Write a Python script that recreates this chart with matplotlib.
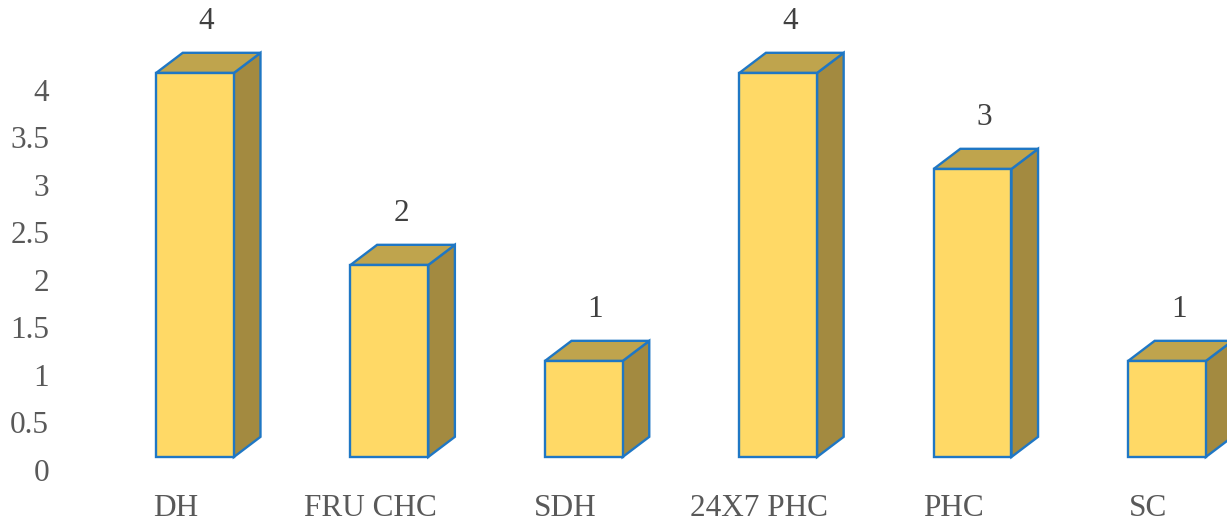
import matplotlib.pyplot as plt
from matplotlib.patches import Polygon

categories = ["DH", "FRU CHC", "SDH", "24X7 PHC", "PHC", "SC"]
counts = [4, 2, 1, 4, 3, 1]
yticks = [0, 0.5, 1, 1.5, 2, 2.5, 3, 3.5, 4]
tick_labels = ["0", "0.5", "1", "1.5", "2", "2.5", "3", "3.5", "4"]

front_color = "#FFD966"
top_color = "#BFA44D"
side_color = "#A38A40"
edge_color = "#1F77C4"

bar_w = 0.40     # front face width (category units)
depth_x = 0.137  # depth offset of the box, x
depth_y = 0.21   # depth offset of the box, y

plt.rcParams['font.family'] = ['Liberation Serif', 'DejaVu Serif']

fig = plt.figure(figsize=(12.27, 5.23), dpi=100)
ax = fig.add_axes([0, 0, 1, 1])
ax.set_xlim(-1.003, 5.309)
ax.set_ylim(-0.6875, 4.760)
ax.axis("off")

for i, (name, v) in enumerate(zip(categories, counts)):
    x0, x1 = i - bar_w / 2, i + bar_w / 2
    front = [(x0, 0), (x1, 0), (x1, v), (x0, v)]
    top = [(x0, v), (x1, v), (x1 + depth_x, v + depth_y), (x0 + depth_x, v + depth_y)]
    side = [(x1, 0), (x1 + depth_x, depth_y), (x1 + depth_x, v + depth_y), (x1, v)]
    for pts, col in ((side, side_color), (top, top_color), (front, front_color)):
        ax.add_patch(Polygon(pts, closed=True, facecolor=col, edgecolor=edge_color,
                             linewidth=1.7, joinstyle="miter"))
    ax.text(i + 0.06, v + depth_y + 0.33, str(v), ha="center", va="center",
            fontsize=22.5, color="#404040")
    ax.text(i - 0.098, -0.54, name, ha="center", va="center",
            fontsize=22.5, color="#595959")

# value axis labels sit on their own scale, slightly below the bar floor
tax = fig.add_axes([52 / 1227, 0, 0.01, 1])
tax.set_ylim(-0.557, 4.942)
tax.set_yticks(yticks)
tax.set_yticklabels(tick_labels)
tax.tick_params(axis="y", length=0, pad=2, labelsize=22.5, labelcolor="#595959")
tax.set_xticks([])
for s in tax.spines.values():
    s.set_visible(False)
tax.patch.set_visible(False)

fig.savefig("out.png", dpi=100)
